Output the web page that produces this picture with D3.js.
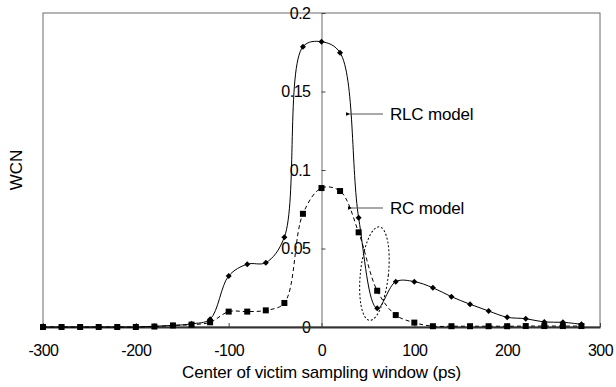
<!DOCTYPE html>
<html>
<head>
<meta charset="utf-8">
<script src="https://cdn.jsdelivr.net/npm/d3@7"></script>
<style>
  body { margin: 0; background: #fff; }
  text { font-family: "Liberation Sans", Arial, sans-serif; fill: #000; }
</style>
</head>
<body>
<div id="chart"></div>
<script>
// sampling window centers (ps)
const centers = [-300, -280, -260, -240, -220, -200, -180, -160, -140, -120,
  -100, -80, -60, -40, -20, 0, 20, 40, 60, 80,
  100, 120, 140, 160, 180, 200, 220, 240, 260, 280];
const rlcModel = [0, 0, 0, 0, 0, 0, 0.0005, 0.001, 0.002, 0.005,
  0.0325, 0.040, 0.041, 0.0572, 0.1785, 0.1817, 0.1747, 0.0696, 0.0119, 0.0289,
  0.0289, 0.025, 0.0193, 0.0145, 0.0102, 0.0062, 0.0053, 0.0032, 0.003, 0.0017];
const rcModel = [0, 0, 0, 0, 0, 0, 0.0003, 0.001, 0.0015, 0.003,
  0.0098, 0.0098, 0.0106, 0.0153, 0.0721, 0.0885, 0.0866, 0.0603, 0.0231, 0.0076,
  0.0028, 0.0005, 0.0005, 0.0005, 0.0005, 0.0005, 0.0006, 0.0006, 0.0006, 0.0006];
const xTicks = [-300, -200, -100, 0, 100, 200, 300];
const yTicks = [0, 0.05, 0.1, 0.15, 0.2];

const W = 616, H = 387;
const margin = { top: 13, right: 16, bottom: 60, left: 43 };

const x = d3.scaleLinear().domain([-300, 300]).range([margin.left, W - margin.right]);
const y = d3.scaleLinear().domain([0, 0.2]).range([H - margin.bottom, margin.top]);

const svg = d3.select('#chart').append('svg')
  .attr('width', W)
  .attr('height', H);

svg.append('defs').append('marker')
  .attr('id', 'arrow')
  .attr('viewBox', '0 0 10 10')
  .attr('refX', 1).attr('refY', 5)
  .attr('markerWidth', 5).attr('markerHeight', 5)
  .attr('orient', 'auto-start-reverse')
  .append('path')
  .attr('d', 'M10,1 L0,5 L10,9 Z')
  .attr('fill', '#000');

// frame
svg.append('rect')
  .attr('x', x(-300)).attr('y', y(0.2))
  .attr('width', x(300) - x(-300))
  .attr('height', y(0) - y(0.2))
  .attr('fill', 'none')
  .attr('stroke', '#6a6a6a')
  .attr('stroke-width', 1);

// y axis through x = 0
const yAxis = svg.append('g')
  .attr('transform', `translate(${x(0)},0)`)
  .call(d3.axisLeft(y).tickValues(yTicks).tickSizeInner(-4).tickSizeOuter(0).tickPadding(11)
    .tickFormat(d => String(d)));
yAxis.select('.domain').attr('stroke', '#6a6a6a');
yAxis.selectAll('.tick line').attr('stroke', '#444');
yAxis.selectAll('text')
  .style('font-size', '16px')
  .style('letter-spacing', '-0.5px')
  .attr('fill', '#000');

// x axis (plain hyphen for negatives, as in the source)
const xAxis = svg.append('g')
  .attr('transform', `translate(0,${y(0)})`)
  .call(d3.axisBottom(x).tickValues(xTicks).tickSizeInner(-4).tickSizeOuter(0).tickPadding(18)
    .tickFormat(d => String(d)));
xAxis.select('.domain').attr('stroke', '#333').attr('stroke-width', 2);
xAxis.selectAll('.tick line').attr('stroke', '#444');
xAxis.selectAll('text')
  .style('font-size', '16px')
  .style('letter-spacing', '-0.5px')
  .attr('fill', '#000');

svg.append('text')
  .attr('x', (x(-300) + x(300)) / 2)
  .attr('y', 378)
  .attr('text-anchor', 'middle')
  .style('font-size', '17px')
  .style('letter-spacing', '-0.2px')
  .text('Center of victim sampling window (ps)');

svg.append('text')
  .attr('transform', 'translate(22,170) rotate(-90)')
  .attr('text-anchor', 'middle')
  .style('font-size', '17px')
  .text('WCN');

const rlcData = centers.map((c, i) => ({ x: c, y: rlcModel[i] }));
const rcData = centers.map((c, i) => ({ x: c, y: rcModel[i] }));

const line = d3.line()
  .x(d => x(d.x))
  .y(d => y(d.y))
  .curve(d3.curveCatmullRom.alpha(0.5));

svg.append('path')
  .datum(rcData)
  .attr('d', line)
  .attr('fill', 'none')
  .attr('stroke', '#000')
  .attr('stroke-width', 1)
  .attr('stroke-dasharray', '4,3');

svg.append('path')
  .datum(rlcData)
  .attr('d', line)
  .attr('fill', 'none')
  .attr('stroke', '#000')
  .attr('stroke-width', 1);

svg.selectAll('.sq')
  .data(rcData)
  .enter().append('rect')
  .attr('class', 'sq')
  .attr('x', d => x(d.x) - 3)
  .attr('y', d => y(d.y) - 3)
  .attr('width', 6)
  .attr('height', 6)
  .attr('fill', '#000');

svg.selectAll('.dm')
  .data(rlcData)
  .enter().append('path')
  .attr('class', 'dm')
  .attr('transform', d => `translate(${x(d.x)},${y(d.y)})`)
  .attr('d', 'M0,-3 L3,0 L0,3 L-3,0 Z')
  .attr('fill', '#000');

// dotted ellipse highlighting the dip
svg.append('ellipse')
  .attr('cx', x(57))
  .attr('cy', y(0.034))
  .attr('rx', 14)
  .attr('ry', 47)
  .attr('transform', `rotate(6,${x(57)},${y(0.034)})`)
  .attr('fill', 'none')
  .attr('stroke', '#000')
  .attr('stroke-width', 1)
  .attr('stroke-dasharray', '2,2');

// annotations
const notes = [
  { label: 'RLC model', x1: 350, y1: 114 },
  { label: 'RC model', x1: 352, y1: 208 }
];
notes.forEach(n => {
  svg.append('line')
    .attr('x1', n.x1).attr('y1', n.y1)
    .attr('x2', 383).attr('y2', n.y1)
    .attr('stroke', '#555')
    .attr('stroke-width', 1)
    .attr('marker-start', 'url(#arrow)');
  svg.append('text')
    .attr('x', 390)
    .attr('y', n.y1 + 6)
    .style('font-size', '17px')
    .style('letter-spacing', '-0.2px')
    .text(n.label);
});
</script>
</body>
</html>
